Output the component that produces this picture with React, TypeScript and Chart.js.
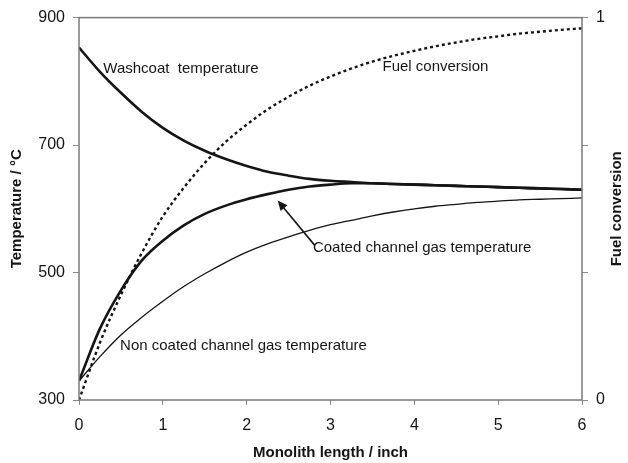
import React, { useEffect, useRef } from "react";
import { Chart, registerables } from "chart.js";

Chart.register(...registerables);

const lengths = [0, 0.25, 0.5, 0.75, 1, 1.25, 1.5, 1.75, 2, 2.25, 2.5, 2.75, 3, 3.25, 3.5, 3.75, 4, 4.25, 4.5, 4.75, 5, 5.25, 5.5, 5.75, 6];
const washcoatTemp = [853, 815, 782, 752, 727, 707, 691, 678, 667, 658, 652, 647, 644, 642, 640, 639, 638, 637, 636, 635, 634, 633, 632, 631, 630];
const coatedGasTemp = [330, 412, 472, 519, 550, 574, 592, 605, 615, 623, 630, 635, 638, 640, 640, 639, 638, 637, 636, 635, 634, 633, 632, 631, 630];
const nonCoatedGasTemp = [330, 368, 402, 430, 455, 478, 498, 516, 532, 545, 556, 566, 575, 582, 589, 595, 600, 604, 607, 610, 612, 614, 615, 616, 617];
const fuelConversion = [0, 0.15, 0.275, 0.385, 0.48, 0.555, 0.62, 0.675, 0.72, 0.76, 0.793, 0.822, 0.846, 0.867, 0.885, 0.9, 0.913, 0.925, 0.935, 0.944, 0.951, 0.958, 0.963, 0.968, 0.972];

const xTicks = [0, 1, 2, 3, 4, 5, 6];
const tempTicks = [300, 500, 700, 900];
const convTicks = [0, 1 / 3, 2 / 3, 1];
const convLabels = ["0", "", "", "1"];

const FONT = "'Liberation Sans', Arial, sans-serif";
const INK = "#151515";

const pts = (ys: number[]) => lengths.map((x, i) => ({ x, y: ys[i] }));

const annotationPlugin = {
  id: "annots",
  afterDraw(chart: any) {
    const { ctx, chartArea: a, scales } = chart;
    const sx = scales.x;
    const sy = scales.y;
    ctx.save();
    // frame
    ctx.strokeStyle = "#7a7a7a";
    ctx.lineWidth = 1.5;
    ctx.strokeRect(a.left, a.top, a.right - a.left, a.bottom - a.top);

    ctx.fillStyle = INK;
    ctx.font = `15px ${FONT}`;
    ctx.textBaseline = "middle";
    ctx.textAlign = "left";
    const label = (t: string, x: number, y: number) =>
      ctx.fillText(t, sx.getPixelForValue(x), sy.getPixelForValue(y));
    label("Washcoat  temperature", 0.29, 820);
    label("Fuel conversion", 3.62, 822);
    label("Coated channel gas temperature", 2.79, 538);
    label("Non coated channel gas temperature", 0.49, 385);

    // arrow
    const tx = sx.getPixelForValue(2.37);
    const ty = sy.getPixelForValue(613);
    const fx = sx.getPixelForValue(2.81);
    const fy = sy.getPixelForValue(543);
    const ang = Math.atan2(ty - fy, tx - fx);
    ctx.strokeStyle = INK;
    ctx.lineWidth = 1.6;
    ctx.beginPath();
    ctx.moveTo(fx, fy);
    ctx.lineTo(tx - 6 * Math.cos(ang), ty - 6 * Math.sin(ang));
    ctx.stroke();
    ctx.beginPath();
    ctx.moveTo(tx, ty);
    ctx.lineTo(tx - 10 * Math.cos(ang) + 4.5 * Math.sin(ang), ty - 10 * Math.sin(ang) - 4.5 * Math.cos(ang));
    ctx.lineTo(tx - 10 * Math.cos(ang) - 4.5 * Math.sin(ang), ty - 10 * Math.sin(ang) + 4.5 * Math.cos(ang));
    ctx.closePath();
    ctx.fill();

    // axis titles
    ctx.font = `bold 15px ${FONT}`;
    ctx.textAlign = "center";
    const midY = (a.top + a.bottom) / 2;
    ctx.fillText("Monolith length / inch", (a.left + a.right) / 2, 453);
    ctx.save();
    ctx.translate(17, midY);
    ctx.rotate(-Math.PI / 2);
    ctx.fillText("Temperature / °C", 0, 0);
    ctx.restore();
    ctx.save();
    ctx.translate(617, midY);
    ctx.rotate(-Math.PI / 2);
    ctx.fillText("Fuel conversion", 0, 0);
    ctx.restore();
    ctx.restore();
  },
};

export default function App() {
  const ref = useRef<HTMLCanvasElement>(null);
  useEffect(() => {
    if (!ref.current) return;
    const chart = new Chart(ref.current, {
      type: "line",
      data: {
        datasets: [
          {
            label: "Washcoat temperature",
            data: pts(washcoatTemp),
            borderColor: INK,
            borderWidth: 2.6,
            yAxisID: "y",
          },
          {
            label: "Coated channel gas temperature",
            data: pts(coatedGasTemp),
            borderColor: INK,
            borderWidth: 2.6,
            yAxisID: "y",
          },
          {
            label: "Non coated channel gas temperature",
            data: pts(nonCoatedGasTemp),
            borderColor: INK,
            borderWidth: 1.3,
            yAxisID: "y",
          },
          {
            label: "Fuel conversion",
            data: pts(fuelConversion),
            borderColor: INK,
            borderWidth: 2.4,
            borderDash: [3, 3],
            yAxisID: "y1",
          },
        ],
      },
      options: {
        animation: false,
        responsive: false,
        devicePixelRatio: 1,
        layout: { padding: { top: 17, left: 0, right: 0, bottom: 0 } },
        elements: {
          point: { radius: 0 },
          line: { cubicInterpolationMode: "monotone", fill: false },
        },
        plugins: { legend: { display: false }, tooltip: { enabled: false } },
        scales: {
          x: {
            type: "linear",
            min: 0,
            max: 6,
            afterBuildTicks: (s: any) => {
              s.ticks = xTicks.map((v) => ({ value: v }));
            },
            afterFit: (s: any) => {
              s.height = 63;
            },
            grid: { drawOnChartArea: false, drawTicks: true, tickLength: 5, color: "#8a8a8a" },
            border: { display: false },
            ticks: { color: INK, font: { family: FONT, size: 16 }, padding: 11, maxRotation: 0 },
          },
          y: {
            position: "left",
            min: 300,
            max: 900,
            afterBuildTicks: (s: any) => {
              s.ticks = tempTicks.map((v) => ({ value: v }));
            },
            afterFit: (s: any) => {
              s.width = 79;
            },
            grid: { drawOnChartArea: false, drawTicks: true, tickLength: 6, color: "#8a8a8a" },
            border: { display: false },
            ticks: { color: INK, font: { family: FONT, size: 16 }, padding: 8 },
          },
          y1: {
            position: "right",
            min: 0,
            max: 1,
            afterBuildTicks: (s: any) => {
              s.ticks = convTicks.map((v) => ({ value: v }));
            },
            afterFit: (s: any) => {
              s.width = 46;
            },
            grid: { drawOnChartArea: false, drawTicks: true, tickLength: 6, color: "#8a8a8a" },
            border: { display: false },
            ticks: {
              color: INK,
              font: { family: FONT, size: 16 },
              padding: 8,
              callback: (_v: any, i: number) => convLabels[i],
            },
          },
        },
      },
      plugins: [annotationPlugin],
    });
    return () => chart.destroy();
  }, []);
  return (
    <div style={{ position: "absolute", left: 0, top: 0, width: 628, height: 463, background: "#fff" }}>
      <canvas ref={ref} width={628} height={463} style={{ width: 628, height: 463 }} />
    </div>
  );
}
